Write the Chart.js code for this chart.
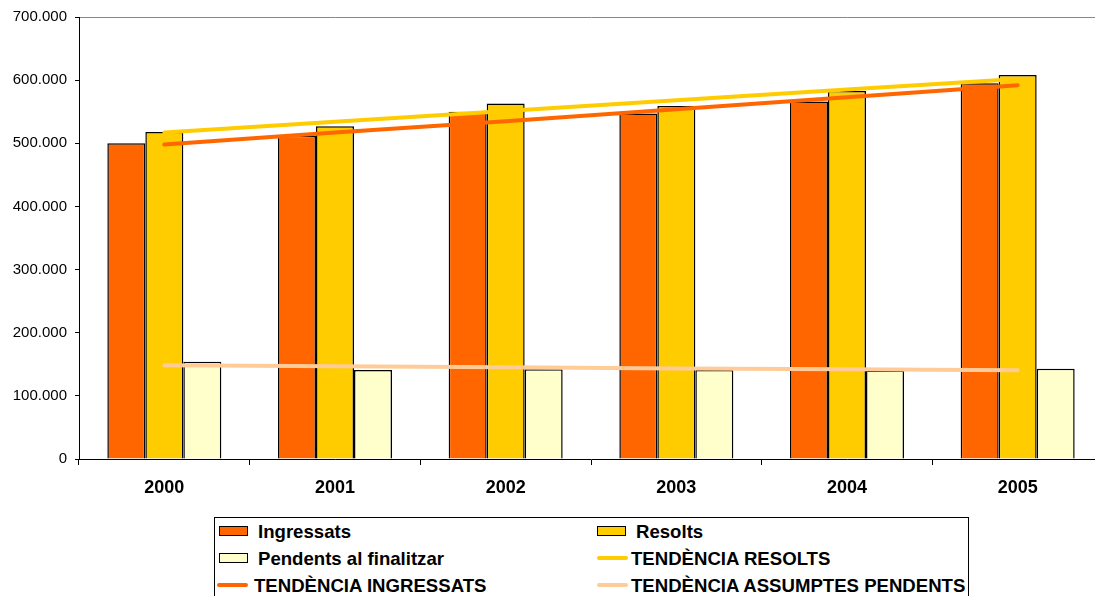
<!DOCTYPE html>
<html>
<head>
<meta charset="utf-8">
<script src="https://cdn.jsdelivr.net/npm/chart.js@4/dist/chart.umd.min.js"></script>
<style>
    body { margin: 0; background: #fff; overflow: hidden; width: 1095px; height: 596px; position: relative; }
    #zonaGrafic { position: absolute; left: 0; top: 0; width: 1103px; height: 499px; }
    #llegenda {
        position: absolute; left: 214px; top: 517px; width: 755px; height: 100px;
        border: 1px solid #000; box-sizing: border-box;
        font-family: "Liberation Sans", Arial, sans-serif; font-weight: bold; font-size: 18.6px; color: #000;
    }
    .item { position: absolute; height: 27px; line-height: 27px; white-space: nowrap; }
    .caixa { position: absolute; top: 8px; width: 29px; height: 10px; border: 1px solid #000; box-sizing: border-box; }
    .linia { position: absolute; top: 11px; width: 31px; height: 4px; border-radius: 2px; }
</style>
</head>
<body>
<div id="zonaGrafic"><canvas id="grafic" width="1103" height="499"></canvas></div>
<div id="llegenda"></div>
<script>
const anys = ["2000", "2001", "2002", "2003", "2004", "2005"];
const ingressats = [500000, 512000, 550000, 547000, 566000, 595000];
const resolts = [518000, 527000, 563000, 559000, 583000, 608000];
const pendents = [154000, 141000, 142000, 141000, 140000, 143000];
const tendenciaIngressats = [498000, 517000, 535000, 554000, 573000, 592000];
const tendenciaResolts = [517000, 534000, 551000, 568000, 585000, 602000];
const tendenciaPendents = [148500, 147000, 145500, 143500, 142000, 140500];
const ticksY = [0, 100000, 200000, 300000, 400000, 500000, 600000, 700000];

const font = "'Liberation Sans', Arial, sans-serif";

function formatMiles(v) {
    return String(v).replace(/\B(?=(\d{3})+(?!\d))/g, ".");
}

function barra(label, data, color) {
    return {
        type: "bar", label: label, data: data,
        backgroundColor: color, borderColor: "#000", borderWidth: 1.5,
        categoryPercentage: 0.668, barPercentage: 1, order: 2
    };
}

function tendencia(label, data, color) {
    return {
        type: "line", label: label, data: data,
        borderColor: color, backgroundColor: color, borderWidth: 4,
        borderCapStyle: "round", pointRadius: 0, tension: 0, order: 1
    };
}

const grafic = new Chart(document.getElementById("grafic"), {
    data: {
        labels: anys,
        datasets: [
            barra("Ingressats", ingressats, "#FF6600"),
            barra("Resolts", resolts, "#FFCC00"),
            barra("Pendents al finalitzar", pendents, "#FFFFCC"),
            tendencia("TENDÈNCIA RESOLTS", tendenciaResolts, "#FFCC00"),
            tendencia("TENDÈNCIA INGRESSATS", tendenciaIngressats, "#FF6600"),
            tendencia("TENDÈNCIA ASSUMPTES PENDENTS", tendenciaPendents, "#FFCC99")
        ]
    },
    options: {
        responsive: false,
        animation: false,
        layout: { padding: { top: 16, left: 0, right: 0, bottom: 0 } },
        plugins: { legend: { display: false }, tooltip: { enabled: false } },
        scales: {
            x: {
                type: "category",
                grid: { offset: true, drawOnChartArea: false, drawTicks: true, tickLength: 6, color: "#000" },
                border: { color: "#000", width: 1 },
                ticks: { color: "#000", padding: 12, font: { family: font, size: 18, weight: "bold" } },
                afterFit: s => { s.height = 40; }
            },
            x2: {
                type: "category",
                position: "top",
                labels: anys,
                grid: { display: false, drawTicks: false },
                border: { color: "#888", width: 1 },
                ticks: { display: false },
                afterFit: s => { s.height = 0; }
            },
            y: {
                min: 0, max: 700000,
                afterBuildTicks: s => { s.ticks = ticksY.map(v => ({ value: v })); },
                grid: { drawOnChartArea: false, drawTicks: true, tickLength: 4, color: "#000" },
                border: { color: "#000", width: 1 },
                ticks: {
                    color: "#000", padding: 8,
                    font: { family: font, size: 15 },
                    callback: v => formatMiles(v)
                },
                afterFit: s => { s.width = 79; }
            }
        }
    }
});

function dibuixarLlegenda(chart) {
    const cont = document.getElementById("llegenda");
    chart.data.datasets.forEach((ds, i) => {
        const col = i % 2, fila = Math.floor(i / 2);
        const esBarra = ds.type === "bar";
        const item = document.createElement("div");
        item.className = "item";
        item.style.left = (col === 0 ? 0 : 381) + "px";
        item.style.top = (fila * 27) + "px";
        const icona = document.createElement("span");
        if (esBarra) {
            icona.className = "caixa";
            icona.style.left = (col === 0 ? 4 : 1) + "px";
            icona.style.background = ds.backgroundColor;
        } else {
            icona.className = "linia";
            icona.style.left = (col === 0 ? 2 : 1) + "px";
            icona.style.background = ds.borderColor;
        }
        const text = document.createElement("span");
        text.textContent = ds.label;
        text.style.position = "absolute";
        text.style.left = (esBarra ? (col === 0 ? 43 : 40) : (col === 0 ? 39 : 35)) + "px";
        item.appendChild(icona);
        item.appendChild(text);
        cont.appendChild(item);
    });
}

dibuixarLlegenda(grafic);
</script>
</body>
</html>
